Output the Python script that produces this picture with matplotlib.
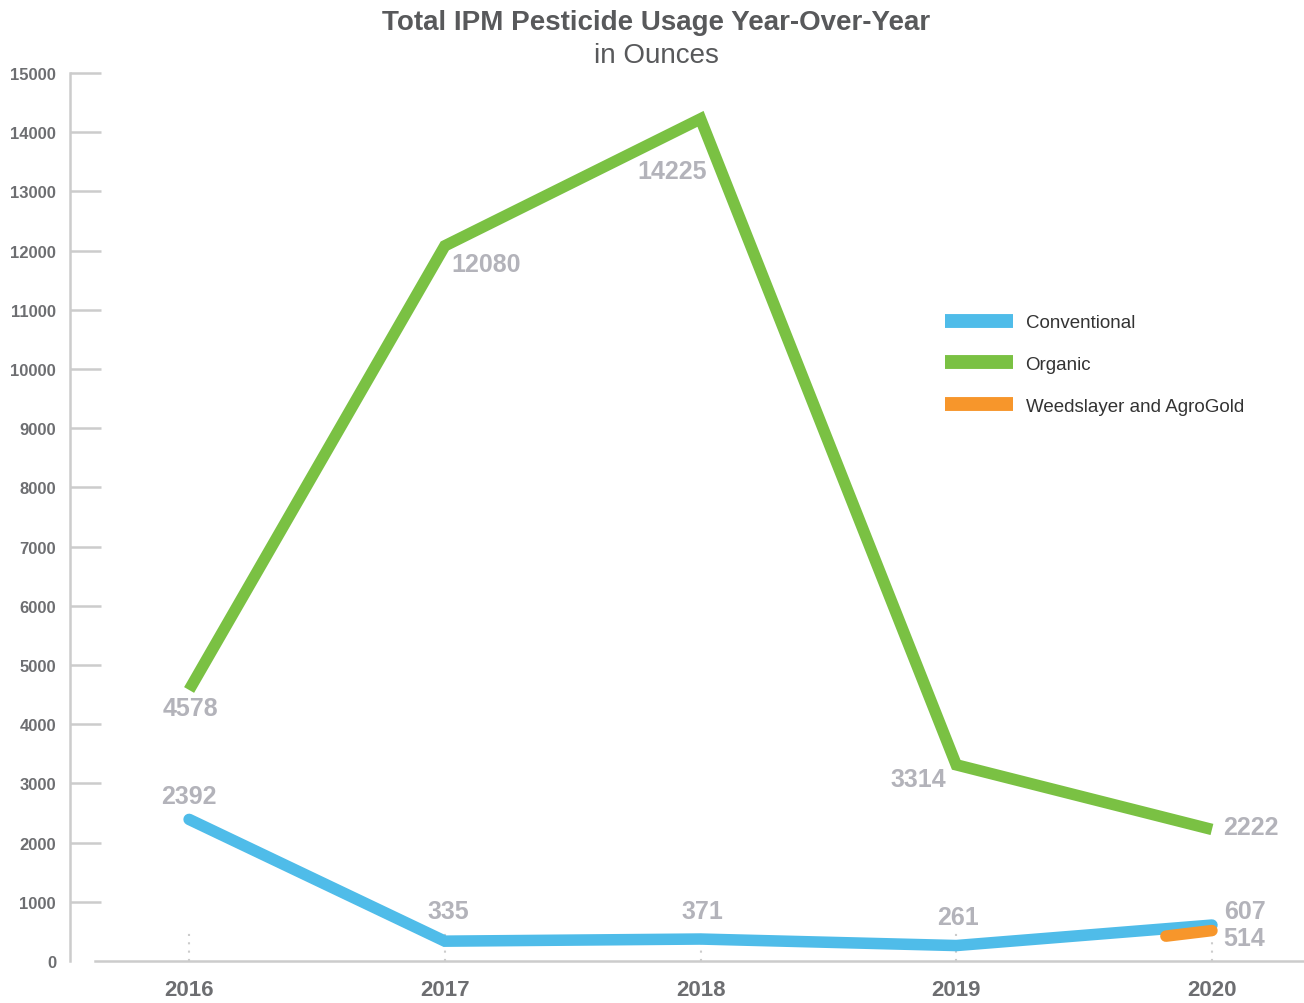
import matplotlib
matplotlib.use("Agg")
import matplotlib.pyplot as plt

years = [2016, 2017, 2018, 2019, 2020]
conventional = [2392, 335, 371, 261, 607]
organic = [4578, 12080, 14225, 3314, 2222]
# the orange segment only appears near 2020
weed_years = [2019.82, 2020]
weed_vals = [420, 514]

y_ticks = list(range(0, 15001, 1000))

blue = "#4fbce9"
green = "#7ac143"
orange = "#f7962b"
label_grey = "#b3b3ba"
tick_grey = "#6d6e71"
axis_grey = "#cccccc"

plt.rcParams["font.family"] = ["Liberation Sans", "DejaVu Sans"]

fig = plt.figure(figsize=(13.04, 10.04), dpi=100)
ax = fig.add_axes([95 / 1304, 42 / 1004, (1304 - 95) / 1304, 888 / 1004])

ax.plot(years, organic, color=green, lw=8.3, solid_joinstyle="miter",
        solid_capstyle="butt", label="Organic", zorder=3)
ax.plot(years, conventional, color=blue, lw=8.3, solid_joinstyle="miter",
        solid_capstyle="round", label="Conventional", zorder=3)
ax.plot(weed_years, weed_vals, color=orange, lw=8.3, solid_capstyle="round",
        label="Weedslayer and AgroGold", zorder=4)

# little dotted markers standing on the x axis
ax.vlines(years, 0, 470, colors=axis_grey, linestyles=(0, (1, 3)), lw=1.5, zorder=1)

# value labels (offsets in pixels)
org_off = [(1, -18), (41, -18), (-28, -52), (-38, -14), (39, 2)]
conv_off = [(0, 23), (3, 30), (2, 28), (2, 29), (33, 14)]
for x, v, o in zip(years, organic, org_off):
    ax.annotate(str(v), (x, v), xytext=o, textcoords="offset pixels",
                ha="center", va="center", fontsize=18, fontweight="bold",
                color=label_grey, zorder=5)
for x, v, o in zip(years, conventional, conv_off):
    ax.annotate(str(v), (x, v), xytext=o, textcoords="offset pixels",
                ha="center", va="center", fontsize=18, fontweight="bold",
                color=label_grey, zorder=5)
ax.annotate(str(weed_vals[-1]), (weed_years[-1], weed_vals[-1]), xytext=(32, -7),
            textcoords="offset pixels", ha="center", va="center", fontsize=18,
            fontweight="bold", color=label_grey, zorder=5)

ax.set_xlim(2015.632, 2020.36)
ax.set_ylim(0, 15000)
ax.set_xticks(years)
ax.set_xticklabels([str(y) for y in years])
ax.set_yticks(y_ticks)
ax.set_yticklabels([str(t) for t in y_ticks])

for s in ["top", "right"]:
    ax.spines[s].set_visible(False)
ax.spines["left"].set_position(("outward", 18))
ax.spines["left"].set_color(axis_grey)
ax.spines["left"].set_linewidth(1.8)
ax.spines["bottom"].set_color(axis_grey)
ax.spines["bottom"].set_linewidth(1.8)

ax.tick_params(axis="y", direction="in", length=22, width=1.8, color=axis_grey,
               pad=10, labelsize=12, labelcolor=tick_grey)
ax.tick_params(axis="x", length=0, pad=13, labelsize=16, labelcolor=tick_grey)
for lab in ax.get_xticklabels() + ax.get_yticklabels():
    lab.set_fontweight("bold")
ax.yaxis.get_major_ticks()[0].tick1line.set_visible(False)

fig.text(656 / 1304, 1 - 23 / 1004, "Total IPM Pesticide Usage Year-Over-Year",
         ha="center", va="center", fontsize=20, fontweight="bold", color="#58595b")
fig.text(656 / 1304, 1 - 56 / 1004, "in Ounces", ha="center", va="center",
         fontsize=20, color="#58595b")

handles, labels = ax.get_legend_handles_labels()
order = [1, 0, 2]
leg = ax.legend([handles[i] for i in order], [labels[i] for i in order],
                loc="upper left", bbox_to_anchor=(945 / 1304, 1 - 315 / 1004),
                bbox_transform=fig.transFigure, frameon=False, fontsize=13.5,
                handlelength=3.6, handletextpad=0.7, labelspacing=1.32,
                borderpad=0, borderaxespad=0)
for line in leg.get_lines():
    line.set_linewidth(10)
    line.set_solid_capstyle("butt")
for t in leg.get_texts():
    t.set_color("#333333")

fig.savefig("out.png", dpi=100)
